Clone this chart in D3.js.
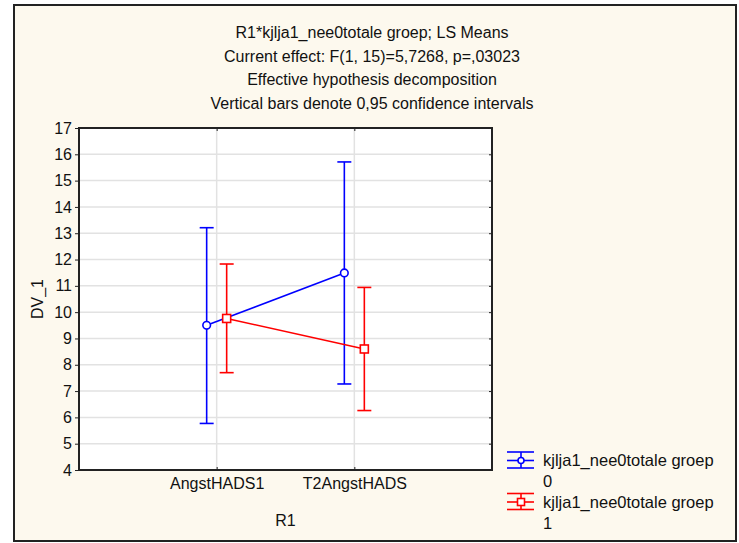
<!DOCTYPE html>
<html>
<head>
<meta charset="utf-8">
<script src="https://cdn.jsdelivr.net/npm/d3@7/dist/d3.min.js"></script>
<style>
  html, body { margin: 0; padding: 0; background: #ffffff; }
  svg { display: block; }
  text { font-family: "Liberation Sans", Arial, sans-serif; fill: #111; }
</style>
</head>
<body>
<svg id="chart" width="739" height="543"></svg>
<script>
// Levels of the within factor R1
const categories = ["AngstHADS1", "T2AngstHADS"];
// Groups of kjlja1_nee0totale groep
const groups = ["0", "1"];
// LS means per group, per level of R1
const means0 = [9.50, 11.49];
const means1 = [9.76, 8.60];
// 0.95 confidence limits
const lower0 = [5.77, 7.27];
const upper0 = [13.21, 15.71];
const lower1 = [7.70, 6.26];
const upper1 = [11.83, 10.94];
const yTicks = [4, 5, 6, 7, 8, 9, 10, 11, 12, 13, 14, 15, 16, 17];
const titleLines = [
  "R1*kjlja1_nee0totale groep; LS Means",
  "Current effect: F(1, 15)=5,7268, p=,03023",
  "Effective hypothesis decomposition",
  "Vertical bars denote 0,95 confidence intervals"
];
const legendName = "kjlja1_nee0totale groep";

const series = [
  { group: groups[0], means: means0, lower: lower0, upper: upper0, color: "#0000ff", marker: "circle" },
  { group: groups[1], means: means1, lower: lower1, upper: upper1, color: "#ff0000", marker: "square" }
];

const FONT = "'Liberation Sans', Arial, sans-serif";
const svg = d3.select("#chart");
const plot = { left: 79, top: 128, right: 492, bottom: 470 };

// outer panel
svg.append("rect").attr("x", 14).attr("y", 5).attr("width", 722).attr("height", 536)
  .attr("fill", "#fdf9ee").attr("stroke", "#222").attr("stroke-width", 2);

// titles
const titleG = svg.append("g");
titleLines.forEach((t, i) => {
  titleG.append("text").attr("x", 372).attr("y", 38 + i * 23.5)
    .attr("text-anchor", "middle").attr("font-size", 16).text(t);
});

const x = d3.scalePoint().domain(categories).range([plot.left, plot.right]).padding(1);
const offset = d3.scalePoint().domain(groups).range([-10, 10]);
const y = d3.scaleLinear().domain([4, 17]).range([plot.bottom, plot.top]);

// plot background
svg.append("rect").attr("x", plot.left).attr("y", plot.top)
  .attr("width", plot.right - plot.left).attr("height", plot.bottom - plot.top)
  .attr("fill", "#ffffff");

// grid
const grid = svg.append("g").attr("stroke", "#e2e2e2").attr("stroke-width", 1.5);
yTicks.slice(1, -1).forEach(v => {
  grid.append("line").attr("x1", plot.left).attr("x2", plot.right)
    .attr("y1", y(v)).attr("y2", y(v));
});
categories.forEach(c => {
  grid.append("line").attr("x1", x(c)).attr("x2", x(c))
    .attr("y1", plot.top).attr("y2", plot.bottom);
});

// axes
const yAxis = svg.append("g").attr("transform", `translate(${plot.left},0)`)
  .call(d3.axisLeft(y).tickValues(yTicks).tickSize(4).tickSizeOuter(0).tickPadding(3));
yAxis.select(".domain").remove();
yAxis.selectAll("text").attr("font-size", 16).attr("fill", "#111").attr("font-family", FONT);
yAxis.selectAll("line").attr("stroke", "#222");

const yAxisR = svg.append("g").attr("transform", `translate(${plot.right},0)`)
  .call(d3.axisLeft(y).tickValues(yTicks).tickSize(3).tickFormat(""));
yAxisR.select(".domain").remove();
yAxisR.selectAll("line").attr("stroke", "#222");

const xAxis = svg.append("g").attr("transform", `translate(0,${plot.bottom})`)
  .call(d3.axisBottom(x).tickSize(-3).tickSizeOuter(0).tickPadding(8));
xAxis.select(".domain").remove();
xAxis.selectAll("line").attr("stroke", "#222");
xAxis.selectAll("text").attr("font-size", 16).attr("fill", "#111").attr("font-family", FONT);

const xAxisT = svg.append("g").attr("transform", `translate(0,${plot.top})`)
  .call(d3.axisTop(x).tickSize(-3).tickFormat(""));
xAxisT.select(".domain").remove();
xAxisT.selectAll("line").attr("stroke", "#222");

// plot frame
svg.append("rect").attr("x", plot.left).attr("y", plot.top)
  .attr("width", plot.right - plot.left).attr("height", plot.bottom - plot.top)
  .attr("fill", "none").attr("stroke", "#222").attr("stroke-width", 2);

// axis titles
svg.append("text").attr("x", (plot.left + plot.right) / 2).attr("y", 526)
  .attr("text-anchor", "middle").attr("font-size", 16).text("R1");
svg.append("text").attr("transform", `translate(43,${(plot.top + plot.bottom) / 2}) rotate(-90)`)
  .attr("text-anchor", "middle").attr("font-size", 16).text("DV_1");

// series
const capHalf = 7;
series.forEach(s => {
  const g = svg.append("g").attr("stroke", s.color).attr("fill", "none").attr("stroke-width", 1.6);
  const px = i => x(categories[i]) + offset(s.group);
  // connecting line
  g.append("path").attr("d", d3.line().x((d, i) => px(i)).y(d => y(d))(s.means));
  // confidence bars
  categories.forEach((c, i) => {
    const cx = px(i);
    g.append("line").attr("x1", cx).attr("x2", cx).attr("y1", y(s.lower[i])).attr("y2", y(s.upper[i]));
    g.append("line").attr("x1", cx - capHalf).attr("x2", cx + capHalf).attr("y1", y(s.lower[i])).attr("y2", y(s.lower[i]));
    g.append("line").attr("x1", cx - capHalf).attr("x2", cx + capHalf).attr("y1", y(s.upper[i])).attr("y2", y(s.upper[i]));
    if (s.marker === "circle") {
      g.append("circle").attr("cx", cx).attr("cy", y(s.means[i])).attr("r", 3.8).attr("fill", "#fff");
    } else {
      g.append("rect").attr("x", cx - 4).attr("y", y(s.means[i]) - 4).attr("width", 8).attr("height", 8).attr("fill", "#fff");
    }
  });
});

// legend
const legend = svg.append("g");
series.forEach((s, k) => {
  const top = 452 + k * 41.5;
  const g = legend.append("g").attr("stroke", s.color).attr("fill", "none").attr("stroke-width", 1.6);
  const lx0 = 507, lx1 = 534, lc = 521;
  g.append("line").attr("x1", lx0).attr("x2", lx1).attr("y1", top).attr("y2", top);
  g.append("line").attr("x1", lx0).attr("x2", lx1).attr("y1", top + 8.5).attr("y2", top + 8.5);
  g.append("line").attr("x1", lx0).attr("x2", lx1).attr("y1", top + 16).attr("y2", top + 16);
  g.append("line").attr("x1", lc).attr("x2", lc).attr("y1", top).attr("y2", top + 16);
  if (s.marker === "circle") {
    g.append("circle").attr("cx", lc).attr("cy", top + 8.5).attr("r", 3).attr("fill", "#fff");
  } else {
    g.append("rect").attr("x", lc - 3.5).attr("y", top + 5).attr("width", 7).attr("height", 7).attr("fill", "#fff");
  }
  legend.append("text").attr("x", 543).attr("y", top + 14).attr("font-size", 16.5).text(legendName);
  legend.append("text").attr("x", 543).attr("y", top + 35).attr("font-size", 16.5).text(s.group);
});
</script>
</body>
</html>
